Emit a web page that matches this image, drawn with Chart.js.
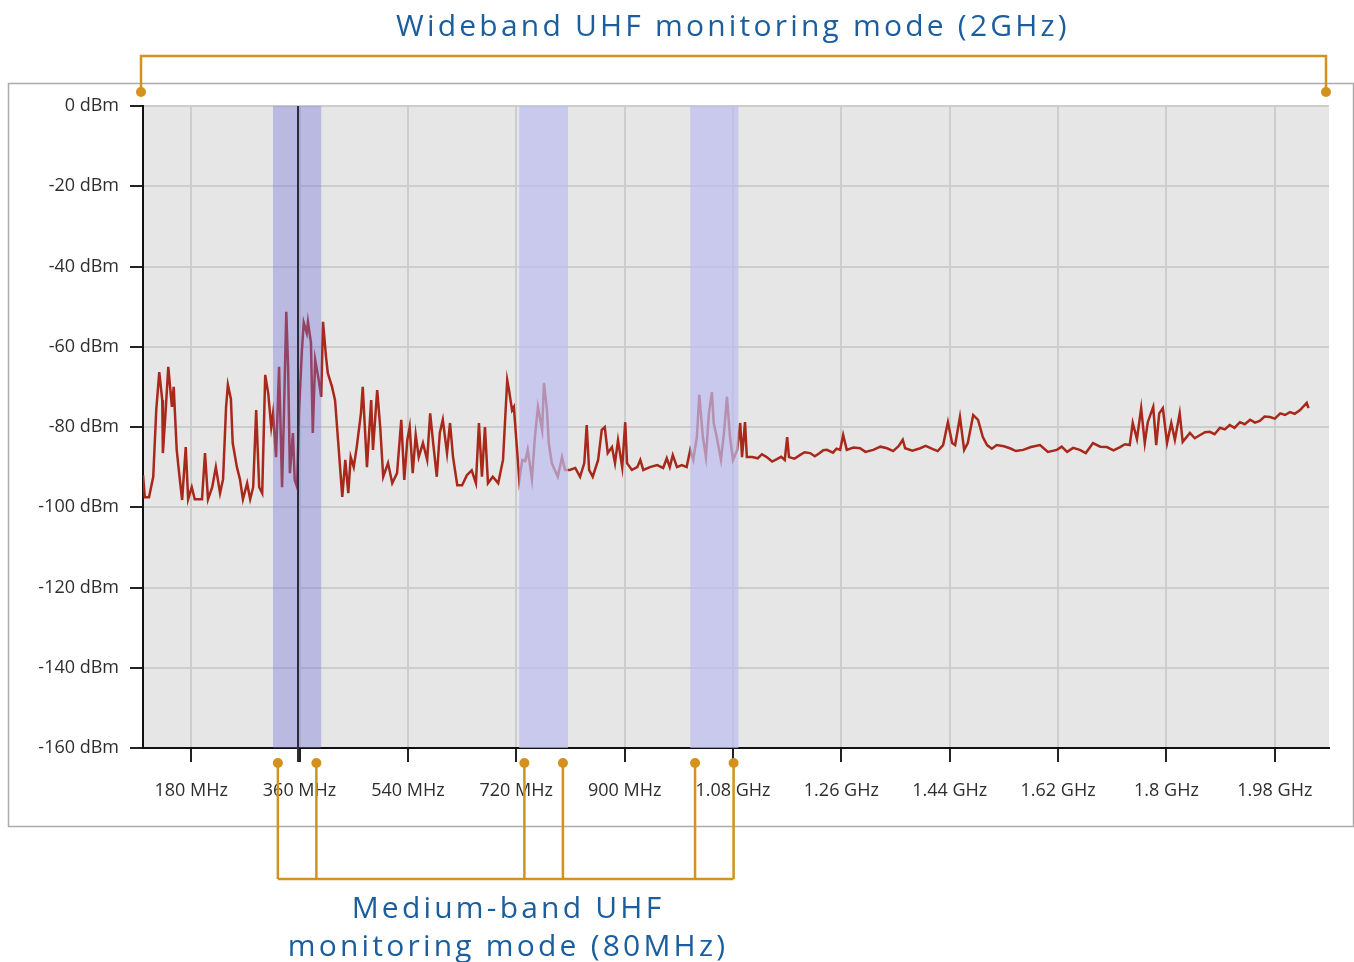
<!DOCTYPE html>
<html>
<head>
<meta charset="utf-8">
<script src="https://cdn.jsdelivr.net/npm/chart.js@4.4.1/dist/chart.umd.min.js"></script>
<style>
  html, body { margin:0; padding:0; background:#fff; }
  #wrap { position:relative; width:1354px; height:962px; overflow:hidden; }
  #spec { position:absolute; left:0; top:0; }
  .note {
    position:absolute; white-space:nowrap; color:#1B5E9E;
    font-family:'Open Sans', 'Noto Sans', sans-serif; font-size:30px;
    line-height:30px; letter-spacing:3.2px; transform:translateX(-50%);
  }
</style>
</head>
<body>
<div id="wrap">
  <canvas id="spec" width="1354" height="962"></canvas>
  <div class="note" style="left:733px; top:10px;">Wideband UHF monitoring mode (2GHz)</div>
  <div class="note" style="left:508px; top:892px;">Medium-band UHF</div>
  <div class="note" style="left:508px; top:930px;">monitoring mode (80MHz)</div>
</div>
<script>
// ── DATOS ─────────────────────────────────────────────
// Traza del espectro (MHz / dBm)
var FREQ_MHZ = [
  100,103,110,117,122,127,132,133,137,142,148,151,156,160,165,171,175,181,186,198,
  203,208,215,221,228,233,238,241,246,249,256,261,266,273,278,283,288,293,298,303,
  308,313,316,321,326,331,334,338,341,344,349,352,356,359,364,367,372,374,379,382,
  386,391,396,399,404,407,414,419,424,431,436,441,445,450,455,462,465,472,479,482,
  489,494,499,507,514,522,529,534,539,543,548,553,558,565,572,577,582,588,593,598,
  605,610,615,622,630,638,646,653,658,663,668,673,681,690,698,705,708,713,716,721,
  725,730,735,739,746,751,756,763,766,771,774,779,784,789,796,801,809,818,826,833,
  837,841,847,856,862,867,872,879,884,889,896,901,904,912,921,926,931,942,954,964,
  970,975,980,987,995,1003,1009,1014,1020,1024,1030,1035,1040,1045,1048,1053,1060,1065,1070,1075,
  1080,1087,1092,1095,1100,1103,1112,1121,1128,1136,1145,1153,1160,1166,1170,1173,1182,1191,1199,1208,
  1216,1224,1230,1236,1246,1252,1258,1263,1269,1280,1291,1300,1313,1325,1336,1346,1355,1362,1366,1378,
  1391,1400,1412,1420,1429,1437,1444,1449,1457,1464,1470,1479,1487,1495,1502,1510,1518,1530,1540,1550,
  1562,1575,1590,1603,1618,1626,1635,1645,1656,1666,1678,1690,1701,1712,1723,1731,1739,1744,1751,1758,
  1764,1769,1778,1783,1788,1794,1801,1808,1814,1822,1827,1839,1847,1856,1864,1872,1880,1889,1897,1905,
  1913,1922,1930,1939,1947,1955,1963,1972,1980,1989,1997,2005,2013,2022,2033,2036
];
var LEVEL_DBM = [
  -92,-97.5,-97.5,-92.4,-75.8,-66.3,-73.3,-86.5,-77.5,-65,-75,-70,-85.7,-91.5,-98.2,-85,-98,-95,-98,-98,
  -86.5,-98,-95,-90,-96.5,-93,-75,-69.5,-73,-84,-90,-93,-98,-94,-98,-95,-75.8,-95,-96.5,-67,
  -71.6,-80,-76.6,-87.5,-65,-95,-77.5,-51.3,-65,-91.5,-81.5,-93.2,-95,-76.6,-60.8,-54,-56.6,-53.8,-59,-81.5,
  -63.3,-67.5,-72.5,-53.8,-62.5,-66.6,-70,-73.3,-83.3,-97.4,-88.2,-96.5,-87.5,-90,-85,-76.6,-70,-90,-73.3,-85.7,
  -70.8,-80,-92.4,-89,-94,-91.5,-78.2,-93.2,-83.3,-80,-91.5,-82,-87.5,-84,-88.2,-76.6,-84,-92.4,-81.5,-78.2,
  -86.5,-79,-87.5,-94.5,-94.5,-92,-90.8,-94,-79,-92.4,-80,-94,-92.4,-94,-88.2,-68.3,-70.8,-75.8,-75,-85,
  -93.2,-88.2,-88.5,-85.7,-93,-82.5,-75,-80.7,-69,-75.8,-84,-89,-90.7,-92.4,-87.5,-90.7,-90.7,-90.2,-92.4,-89,
  -79.5,-90.7,-92.4,-88.2,-80.7,-80,-86.5,-85,-89,-83.3,-90,-78.8,-89,-90.7,-90,-88.2,-90.7,-90,-89.5,-90.2,
  -87.8,-90,-87,-90,-89.5,-90,-85.7,-88.2,-82.5,-72,-82.5,-87.5,-76.6,-71.3,-79,-82.5,-88.2,-81.5,-72.5,-82.5,
  -88.2,-85.7,-79,-87.5,-78.8,-87.5,-87.5,-87.8,-86.8,-87.5,-88.6,-88,-87.4,-88.2,-82.5,-87.5,-87.9,-87,-86.3,-86.5,
  -87.3,-86.5,-85.8,-85.7,-86.4,-85.4,-85.7,-82,-85.7,-85.1,-85.3,-86.2,-85.7,-84.9,-85.3,-86,-84.8,-83.2,-85.3,-85.9,
  -85.3,-84.7,-85.5,-86,-84.5,-78.8,-84,-84.5,-77.5,-85.7,-84,-77,-78.2,-82.5,-84.5,-85.4,-84.5,-84.8,-85.3,-86,
  -85.7,-85,-84.5,-86.2,-85.7,-84.9,-86.2,-85.2,-85.7,-86.5,-84,-84.9,-85,-85.8,-85,-84.3,-84.5,-79,-83,-75.3,
  -84,-78.8,-75,-84.5,-76.6,-75.3,-84,-79,-83.2,-76.6,-83.7,-81.5,-82.8,-82,-81.3,-81.2,-81.8,-80.2,-80.6,-79.5,
  -80.2,-78.8,-79.3,-78.2,-78.9,-78.5,-77.4,-77.5,-77.9,-76.6,-77,-76.3,-76.7,-75.8,-74,-75.3
];

// Ejes
var X_MIN = 100, X_MAX = 2070;
var XTICKS = [180,360,540,720,900,1080,1260,1440,1620,1800,1980];
var XTICK_LABELS = ['180 MHz','360 MHz','540 MHz','720 MHz','900 MHz','1.08 GHz',
                    '1.26 GHz','1.44 GHz','1.62 GHz','1.8 GHz','1.98 GHz'];
var YTICKS = [-160,-140,-120,-100,-80,-60,-40,-20,0];

// Bandas del modo de banda media (80 MHz) y marcador
var BANDS = [[316,396],[725,806],[1009,1089]];
var MARKER_MHZ = 357;

// ── COLORES ───────────────────────────────────────────
var C_LINE   = '#A8281A';
var C_PLOT   = '#E6E6E6';
var C_GRID   = '#CDCDCD';
var C_ORANGE = '#D4911D';

var points = FREQ_MHZ.map(function (f, i) { return { x: f, y: LEVEL_DBM[i] }; });

// fondo, marco exterior y área gris
var fondoPlugin = {
  id: 'fondo',
  beforeDraw: function (chart) {
    var ctx = chart.ctx, a = chart.chartArea;
    ctx.save();
    ctx.fillStyle = '#fff';
    ctx.fillRect(0, 0, chart.width, chart.height);
    ctx.strokeStyle = '#ABABAB';
    ctx.lineWidth = 1.5;
    ctx.strokeRect(8.5, 83.5, 1345, 743);
    ctx.fillStyle = C_PLOT;
    ctx.fillRect(a.left, a.top, a.right - a.left, a.bottom - a.top);
    ctx.restore();
  }
};

// bandas semitransparentes sobre la traza + marcador vertical
var bandasPlugin = {
  id: 'bandas',
  afterDatasetsDraw: function (chart) {
    var ctx = chart.ctx, a = chart.chartArea, xs = chart.scales.x;
    ctx.save();
    BANDS.forEach(function (b, i) {
      var x0 = xs.getPixelForValue(b[0]), x1 = xs.getPixelForValue(b[1]);
      ctx.fillStyle = i === 0 ? 'rgba(112,112,218,0.38)' : 'rgba(188,188,240,0.70)';
      ctx.fillRect(x0, a.top, x1 - x0, a.bottom - a.top);
    });
    var xm = Math.round(xs.getPixelForValue(MARKER_MHZ));
    ctx.strokeStyle = '#2C2C3A';
    ctx.lineWidth = 2;
    ctx.beginPath();
    ctx.moveTo(xm, a.top);
    ctx.lineTo(xm, a.bottom + 14);
    ctx.stroke();
    ctx.restore();
  }
};

// corchetes naranjas de anotación
var corchetesPlugin = {
  id: 'corchetes',
  afterDraw: function (chart) {
    var ctx = chart.ctx, a = chart.chartArea, xs = chart.scales.x;
    function dot(x, y) {
      ctx.beginPath(); ctx.arc(x, y, 5, 0, Math.PI * 2); ctx.fill();
    }
    ctx.save();
    ctx.strokeStyle = C_ORANGE;
    ctx.fillStyle = C_ORANGE;
    ctx.lineWidth = 2.5;
    // superior: banda ancha 2 GHz
    var xl = a.left - 2, xr = a.right - 3, yTop = 56, yDot = 92;
    ctx.beginPath();
    ctx.moveTo(xl, yDot); ctx.lineTo(xl, yTop); ctx.lineTo(xr, yTop); ctx.lineTo(xr, yDot);
    ctx.stroke();
    dot(xl, yDot); dot(xr, yDot);
    // inferior: bandas de 80 MHz
    var yD = 763, yB = 879, xsAll = [];
    BANDS.forEach(function (b) {
      var c = (b[0] + b[1]) / 2;
      xsAll.push(xs.getPixelForValue(c - 32), xs.getPixelForValue(c + 32));
    });
    xsAll.forEach(function (x) {
      ctx.beginPath(); ctx.moveTo(x, yD); ctx.lineTo(x, yB); ctx.stroke();
      dot(x, yD);
    });
    ctx.beginPath();
    ctx.moveTo(xsAll[0], yB); ctx.lineTo(xsAll[xsAll.length - 1], yB);
    ctx.stroke();
    ctx.restore();
  }
};

var tickFont = { family: "'Open Sans', 'Noto Sans', sans-serif", size: 18 };

new Chart(document.getElementById('spec').getContext('2d'), {
  type: 'line',
  data: {
    datasets: [{
      data: points,
      borderColor: C_LINE,
      borderWidth: 2.5,
      pointRadius: 0,
      tension: 0,
      fill: false
    }]
  },
  options: {
    responsive: false,
    animation: false,
    devicePixelRatio: 1,
    layout: { padding: { left: 0, top: 106, right: 25, bottom: 0 } },
    plugins: { legend: { display: false }, tooltip: { enabled: false } },
    scales: {
      x: {
        type: 'linear', min: X_MIN, max: X_MAX,
        afterFit: function (s) { s.height = 214; },
        afterBuildTicks: function (s) { s.ticks = XTICKS.map(function (v) { return { value: v }; }); },
        grid: { color: C_GRID, lineWidth: 2, tickColor: '#222', tickLength: 14, tickWidth: 2 },
        border: { color: '#111', width: 2 },
        ticks: {
          font: tickFont, color: '#2E2E2E', padding: 18, maxRotation: 0, autoSkip: false,
          callback: function (v, i) { return XTICK_LABELS[i]; }
        }
      },
      y: {
        min: -160, max: 0,
        afterFit: function (s) { s.width = 143; },
        afterBuildTicks: function (s) { s.ticks = YTICKS.map(function (v) { return { value: v }; }); },
        grid: { color: C_GRID, lineWidth: 2, tickColor: '#222', tickLength: 13, tickWidth: 2 },
        border: { color: '#111', width: 2 },
        ticks: {
          font: tickFont, color: '#2E2E2E', padding: 11,
          callback: function (v) { return v + ' dBm'; }
        }
      }
    }
  },
  plugins: [fondoPlugin, bandasPlugin, corchetesPlugin]
});
</script>
</body>
</html>
